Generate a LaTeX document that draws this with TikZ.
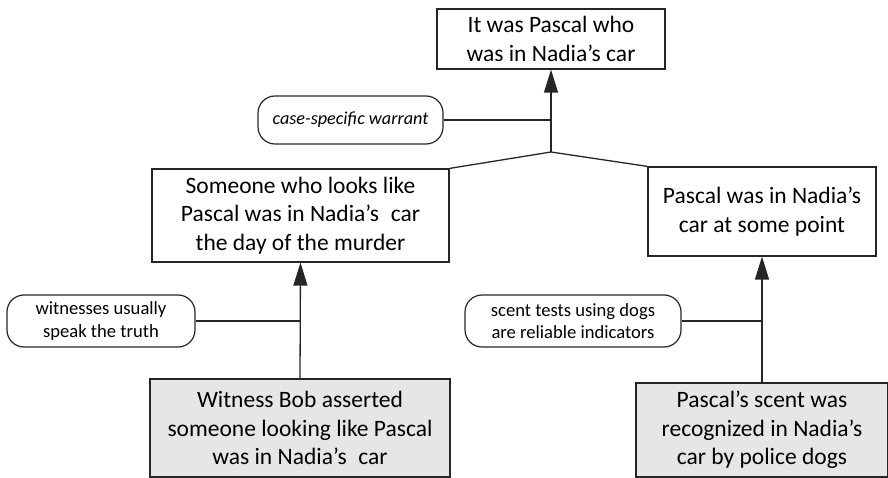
\documentclass[tikz,border=0pt]{standalone}
\usepackage{fontspec}
\setmainfont{Carlito}
\usetikzlibrary{arrows.meta}
\definecolor{boxgray}{HTML}{E6E6E6}
\tikzset{
  claim/.style={draw=black!85, line width=1.2pt, align=center, inner sep=0pt,
    font=\fontsize{23.5}{28.5}\selectfont},
  evid/.style={claim, fill=boxgray},
  warr/.style={draw=black!85, line width=1.2pt, rounded corners=17pt, align=center, inner sep=0pt,
    font=\fontsize{18.6}{22.5}\selectfont},
  link/.style={draw=black!85, line width=1.3pt},
  sup/.style={link, -{Triangle[length=23pt,width=14pt]}}
}
\begin{document}
\begin{tikzpicture}[x=1pt,y=-1pt]
\useasboundingbox (0,0) rectangle (888,478);
\clip (0,0) rectangle (888,478);
\node[claim, minimum width=228pt, minimum height=60pt] (top) at (551,39)
  {It was Pascal who\\was in Nadia’s car};
\node[claim, minimum width=297pt, minimum height=93pt] (lc) at (300.5,215.5)
  {Someone who looks like\\Pascal was in Nadia’s\enspace car\\the day of the murder};
\node[claim, minimum width=228pt, minimum height=89pt] (rc) at (762,211.5)
  {Pascal was in Nadia’s\\car at some point};
\node[warr, minimum width=185pt, minimum height=48pt] (w0) at (350.5,120)
  {\fontsize{18.2}{22}\selectfont\itshape case-specific warrant};
\node[warr, minimum width=188pt, minimum height=52pt] (w1) at (101,321)
  {witnesses usually\\speak the truth};
\node[warr, minimum width=216pt, minimum height=52pt] (w2) at (573,321)
  {scent tests using dogs\\are reliable indicators};
\node[evid, minimum width=300pt, minimum height=98pt] (e1) at (300,428)
  {Witness Bob asserted\\someone looking like Pascal\\was in Nadia’s\enspace car};
\node[evid, minimum width=252pt, minimum height=94pt] (e2) at (762,430)
  {Pascal’s scent was\\recognized in Nadia’s\\car by police dogs};
\coordinate (j) at (551,152);
\coordinate (j0) at (551,120);
\coordinate (j1) at (300,321);
\coordinate (j2) at (762,321);
\draw[link] (lc.north east) -- (j) -- (rc.north west);
\draw[sup] (j) -- (top.south);
\draw[link] (w0.east) -- (j0);
\draw[sup] (e1.north) -- (lc.south);
\draw[link] (w1.east) -- (j1);
\draw[sup] (e2.north) -- (rc.south);
\draw[link] (w2.east) -- (j2);
\end{tikzpicture}
\end{document}
